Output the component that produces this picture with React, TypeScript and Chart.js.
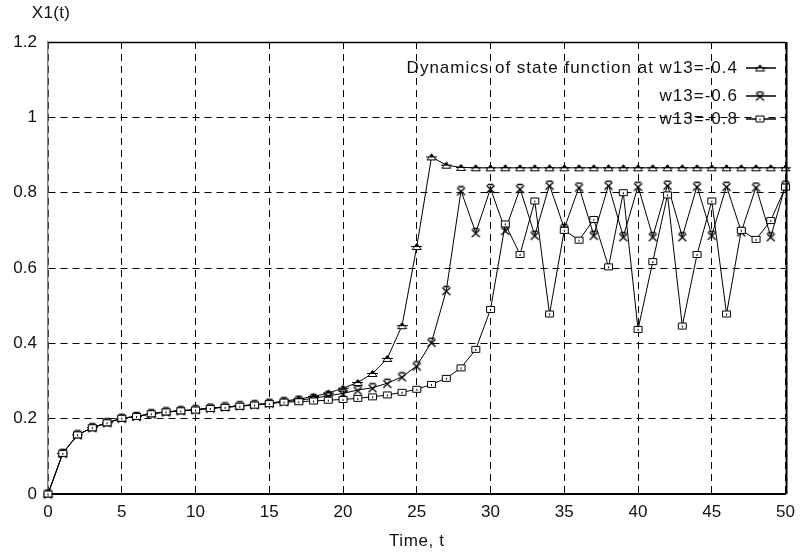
import React, { useEffect, useRef } from "react";
import { Chart, registerables } from "chart.js";

Chart.register(...registerables);

const TIME = [0,1,2,3,4,5,6,7,8,9,10,11,12,13,14,15,16,17,18,19,20,21,22,23,24,25,26,27,28,29,30,31,32,33,34,35,36,37,38,39,40,41,42,43,44,45,46,47,48,49,50];

const W04 = [0, 0.108, 0.157, 0.176, 0.189, 0.201, 0.206, 0.213, 0.218, 0.221, 0.224, 0.228, 0.231, 0.234, 0.237, 0.241,
  0.247, 0.252, 0.259, 0.268, 0.281, 0.296, 0.320, 0.360, 0.447, 0.657, 0.895, 0.873, 0.867, 0.866,
  0.866, 0.866, 0.866, 0.866, 0.866, 0.866, 0.866, 0.866, 0.866, 0.866, 0.866, 0.866, 0.866, 0.866,
  0.866, 0.866, 0.866, 0.866, 0.866, 0.866, 0.866];

const W06 = [0, 0.108, 0.157, 0.176, 0.189, 0.201, 0.206, 0.213, 0.218, 0.221, 0.224, 0.228, 0.231, 0.234, 0.237, 0.241,
  0.245, 0.249, 0.254, 0.261, 0.267, 0.276, 0.282, 0.294, 0.311, 0.340, 0.403, 0.540, 0.805, 0.694,
  0.811, 0.700, 0.811, 0.687, 0.820, 0.705, 0.815, 0.687, 0.820, 0.683, 0.817, 0.683, 0.820, 0.683,
  0.817, 0.687, 0.817, 0.696, 0.815, 0.683, 0.820];

const W08 = [0, 0.108, 0.157, 0.176, 0.189, 0.201, 0.206, 0.213, 0.218, 0.221, 0.223, 0.227, 0.230, 0.233, 0.236, 0.240,
  0.244, 0.245, 0.247, 0.249, 0.251, 0.254, 0.258, 0.263, 0.270, 0.278, 0.291, 0.307, 0.335, 0.384,
  0.490, 0.717, 0.636, 0.778, 0.478, 0.700, 0.674, 0.729, 0.603, 0.800, 0.437, 0.617, 0.794, 0.446,
  0.636, 0.778, 0.478, 0.700, 0.676, 0.726, 0.815];

const LEGEND_LABELS = ["Dynamics of state function at w13=-0.4", "w13=-0.6", "w13=-0.8"];
const Y_TITLE = "X1(t)";
const X_TITLE = "Time, t";

const FONT = "'Liberation Sans', Arial, sans-serif";

function makeMarker(kind: string): HTMLCanvasElement {
  const c = document.createElement("canvas");
  c.width = 11;
  c.height = kind === "cross" ? 11 : 9;
  const g = c.getContext("2d") as CanvasRenderingContext2D;
  g.strokeStyle = "#000";
  g.fillStyle = "#fff";
  g.lineWidth = 1;
  if (kind === "triangle") {
    g.beginPath();
    g.moveTo(1, 7.5);
    g.lineTo(5.5, 1.5);
    g.lineTo(10, 7.5);
    g.closePath();
    g.fill();
    g.stroke();
    g.beginPath();
    g.moveTo(0, 4.5);
    g.lineTo(11, 4.5);
    g.stroke();
    g.fillStyle = "#000";
    g.fillRect(4, 2, 3, 3);
  } else if (kind === "cross") {
    g.lineWidth = 1.3;
    g.beginPath();
    g.moveTo(1.5, 2.5);
    g.lineTo(9.5, 10);
    g.moveTo(9.5, 2.5);
    g.lineTo(1.5, 10);
    g.moveTo(2.5, 1.5);
    g.lineTo(8.5, 1.5);
    g.stroke();
  } else {
    g.beginPath();
    g.rect(1.5, 1.5, 8, 6);
    g.fill();
    g.stroke();
    g.fillStyle = "#000";
    g.fillRect(5, 4, 1, 2);
  }
  return c;
}

export default function App() {
  const ref = useRef<HTMLCanvasElement | null>(null);

  useEffect(() => {
    if (!ref.current) return;
    const markers = [makeMarker("triangle"), makeMarker("cross"), makeMarker("square")];

    const decorPlugin = {
      id: "decor",
      afterDraw(chart: any) {
        const ctx = chart.ctx as CanvasRenderingContext2D;
        const a = chart.chartArea;
        ctx.save();
        ctx.strokeStyle = "#000";
        ctx.lineWidth = 1.5;
        ctx.beginPath();
        ctx.moveTo(a.left, a.top + 0.5);
        ctx.lineTo(a.right, a.top + 0.5);
        ctx.stroke();
        ctx.lineWidth = 2;
        ctx.beginPath();
        ctx.moveTo(a.right + 1, a.top);
        ctx.lineTo(a.right + 1, a.bottom);
        ctx.stroke();
        ctx.fillStyle = "#111";
        ctx.font = `17px ${FONT}`;
        ctx.textBaseline = "middle";
        (ctx as any).letterSpacing = "0.3px";
        ctx.textAlign = "center";
        ctx.fillText(Y_TITLE, a.left + 3, 13);
        (ctx as any).letterSpacing = "0.6px";
        ctx.fillText(X_TITLE, (a.left + a.right) / 2, 541);
        const rows = [68, 96, 119];
        ctx.textAlign = "right";
        (ctx as any).letterSpacing = "1px";
        for (let i = 0; i < LEGEND_LABELS.length; i++) {
          const y = rows[i];
          ctx.fillStyle = "#111";
          ctx.fillText(LEGEND_LABELS[i], 738, y);
          ctx.strokeStyle = "#000";
          ctx.lineWidth = 1.5;
          ctx.beginPath();
          ctx.moveTo(746, y);
          ctx.lineTo(776, y);
          ctx.stroke();
          const m = markers[i];
          ctx.drawImage(m, 760 - m.width / 2, y - m.height / 2);
        }
        ctx.restore();
      },
    };

    const mk = (vals: number[], style: any) => ({
      data: TIME.map((t, i) => ({ x: t, y: vals[i] })),
      borderColor: "#000",
      borderWidth: 1,
      backgroundColor: "#fff",
      pointStyle: style,
      pointRadius: 5,
      tension: 0,
      fill: false,
      clip: false,
    });
    const chart = new Chart(ref.current, {
      type: "line",
      data: {
        datasets: [
          mk(W08, markers[2]),
          mk(W06, markers[1]),
          mk(W04, markers[0]),
        ],
      },
      options: {
        animation: false,
        responsive: false,
        maintainAspectRatio: false,
        layout: { padding: { top: 42, right: 13, left: 0, bottom: 0 } },
        plugins: { legend: { display: false }, tooltip: { enabled: false }, title: { display: false } },
        scales: {
          x: {
            type: "linear",
            min: 0,
            max: 50,
            afterFit: (s: any) => { s.height = 64; },
            ticks: {
              stepSize: 5,
              color: "#111",
              font: { family: FONT, size: 17 },
              padding: 8,
              maxRotation: 0,
            },
            grid: { color: "#000", lineWidth: 1, drawTicks: false },
            border: { display: true, color: "#000", width: 2, dash: [7, 5] },
          },
          y: {
            type: "linear",
            min: 0,
            max: 1.2,
            afterFit: (s: any) => { s.width = 48; },
            ticks: {
              stepSize: 0.2,
              color: "#111",
              font: { family: FONT, size: 17 },
              padding: 11,
              callback: (v: any) => String(Number(Number(v).toFixed(1))),
            },
            grid: { color: "#000", lineWidth: 1, drawTicks: false },
            border: { display: true, color: "#808080", width: 1.5, dash: [7, 5] },
          },
        },
      },
      plugins: [decorPlugin],
    } as any);
    return () => chart.destroy();
  }, []);

  return (
    <div style={{ position: "fixed", left: 0, top: 0, width: 803, height: 558, background: "#fff" }}>
      <canvas ref={ref} width={803} height={558} style={{ display: "block", width: 803, height: 558 }} />
    </div>
  );
}
